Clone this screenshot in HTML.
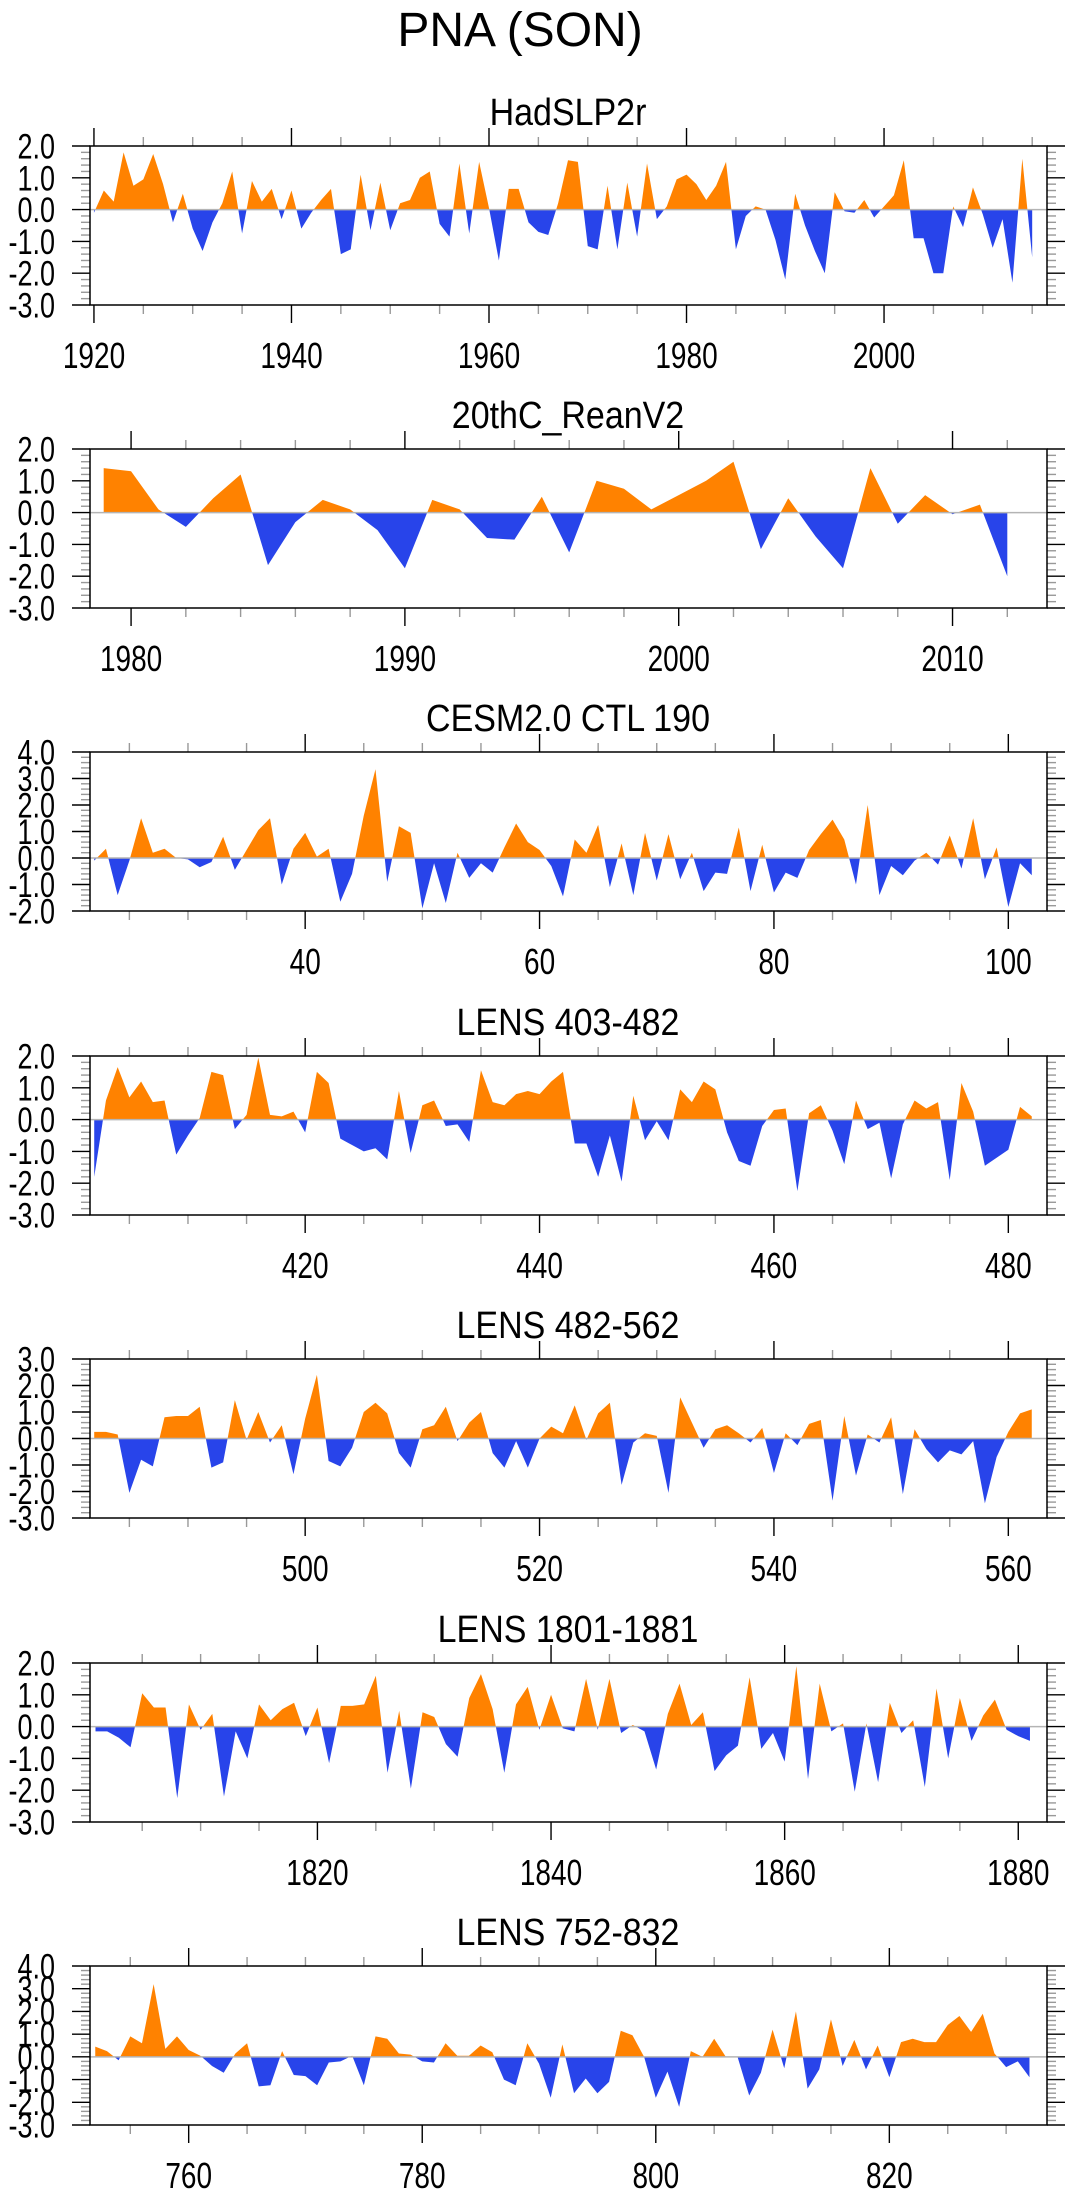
<!DOCTYPE html>
<html><head><meta charset="utf-8"><title>PNA (SON)</title>
<style>
html,body{margin:0;padding:0;background:#fff;}
svg{display:block;font-family:"Liberation Sans",Arial,sans-serif;}
</style></head>
<body>
<svg id="chart" width="1075" height="2191" viewBox="0 0 1075 2191" xmlns="http://www.w3.org/2000/svg">
<text x="520" y="46" font-size="48" text-anchor="middle" fill="#000">PNA (SON)</text>
</svg>
<script>
// ---- Panel data ----
const hadStart = 1920;
const hadValues = [-0.1,0.6,0.25,1.8,0.75,0.95,1.75,0.8,-0.4,0.5,
-0.6,-1.3,-0.4,0.2,1.2,-0.75,0.9,0.25,0.65,-0.3,
0.6,-0.6,-0.1,0.3,0.65,-1.4,-1.25,1.1,-0.65,0.85,
-0.65,0.2,0.3,1.0,1.2,-0.45,-0.85,1.45,-0.75,1.5,
0.05,-1.6,0.65,0.65,-0.4,-0.7,-0.8,0.2,1.55,1.5,
-1.15,-1.25,0.75,-1.25,0.85,-0.85,1.45,-0.3,0.1,0.95,
1.1,0.8,0.3,0.75,1.5,-1.25,-0.2,0.1,0.0,-0.95,
-2.2,0.5,-0.5,-1.3,-2.0,0.55,-0.05,-0.1,0.3,-0.25,
0.1,0.45,1.55,-0.9,-0.9,-2.0,-2.0,0.1,-0.55,0.7,
-0.15,-1.2,-0.3,-2.3,1.6,-1.5];
const hadTicks = [1920,1940,1960,1980,2000];

const reanStart = 1979;
const reanValues = [1.4,1.3,0.1,-0.45,0.45,1.2,-1.65,-0.3,0.4,0.1,
-0.55,-1.75,0.4,0.1,-0.8,-0.85,0.5,-1.25,1.0,0.75,
0.1,0.55,1.0,1.6,-1.15,0.45,-0.75,-1.75,1.4,-0.35,
0.55,-0.05,0.25,-2.0];
const reanTicks = [1980,1990,2000,2010];

const ctlStart = 22;
const ctlValues = [-0.1,0.35,-1.4,-0.1,1.5,0.2,0.35,0.0,-0.05,-0.35,
-0.15,0.8,-0.45,0.3,1.05,1.5,-1.0,0.35,0.95,0.05,
0.35,-1.65,-0.6,1.6,3.35,-0.9,1.2,0.95,-1.9,-0.2,
-1.7,0.2,-0.75,-0.2,-0.55,0.4,1.3,0.6,0.3,-0.3,
-1.45,0.7,0.2,1.25,-1.1,0.55,-1.4,0.95,-0.85,0.9,
-0.8,0.2,-1.25,-0.55,-0.6,1.15,-1.25,0.5,-1.3,-0.55,
-0.75,0.3,0.9,1.45,0.7,-1.0,2.0,-1.4,-0.3,-0.65,
-0.1,0.2,-0.25,0.85,-0.4,1.5,-0.8,0.4,-1.85,-0.2,-0.65];
const ctlTicks = [40,60,80,100];

const lensAStart = 402;
const lensAValues = [-1.8,0.6,1.65,0.7,1.2,0.55,0.6,-1.1,-0.5,0.05,
1.5,1.4,-0.3,0.15,1.95,0.15,0.1,0.25,-0.4,1.5,
1.15,-0.6,-0.8,-1.0,-0.9,-1.25,0.9,-1.05,0.45,0.6,
-0.2,-0.15,-0.7,1.55,0.55,0.45,0.8,0.9,0.8,1.2,
1.5,-0.75,-0.75,-1.8,-0.5,-1.95,0.75,-0.65,-0.05,-0.65,
0.95,0.55,1.2,0.95,-0.4,-1.3,-1.45,-0.2,0.3,0.35,
-2.25,0.2,0.45,-0.35,-1.4,0.6,-0.3,-0.1,-1.85,-0.15,
0.6,0.35,0.55,-1.9,1.15,0.25,-1.45,-1.2,-0.95,0.4,0.1];
const lensATicks = [420,440,460,480];

const lensBStart = 482;
const lensBValues = [0.25,0.25,0.15,-2.05,-0.8,-1.05,0.8,0.85,0.85,1.2,
-1.1,-0.9,1.45,-0.05,1.0,-0.15,0.5,-1.35,0.75,2.4,
-0.85,-1.05,-0.35,1.0,1.35,0.95,-0.55,-1.1,0.35,0.5,
1.2,-0.1,0.6,1.0,-0.55,-1.1,-0.1,-1.1,0.0,0.45,
0.2,1.25,-0.05,0.95,1.35,-1.75,-0.15,0.2,0.1,-2.05,
1.55,0.6,-0.35,0.35,0.5,0.2,-0.15,0.4,-1.3,0.2,
-0.25,0.55,0.7,-2.35,0.85,-1.4,0.15,-0.15,0.8,-2.1,
0.35,-0.4,-0.9,-0.45,-0.6,-0.1,-2.45,-0.7,0.25,0.95,1.1];
const lensBTicks = [500,520,540,560];

const lensCStart = 1801;
const lensCValues = [-0.15,-0.15,-0.35,-0.65,1.05,0.6,0.6,-2.25,0.7,-0.1,
0.4,-2.2,-0.15,-1.0,0.7,0.2,0.55,0.75,-0.3,0.6,
-1.15,0.65,0.65,0.7,1.6,-1.45,0.5,-1.95,0.45,0.3,
-0.55,-0.95,0.9,1.65,0.55,-1.45,0.7,1.25,-0.1,1.0,
-0.05,-0.15,1.5,-0.1,1.5,-0.2,0.05,-0.15,-1.35,0.4,
1.35,0.05,0.45,-1.4,-0.9,-0.6,1.55,-0.7,-0.2,-1.1,
1.9,-1.65,1.35,-0.15,0.1,-2.05,0.1,-1.75,0.75,-0.2,
0.2,-1.9,1.2,-1.0,0.9,-0.45,0.35,0.85,-0.1,-0.3,-0.45];
const lensCTicks = [1820,1840,1860,1880];

const lensDStart = 752;
const lensDValues = [0.45,0.25,-0.15,0.9,0.6,3.2,0.35,0.9,0.3,0.05,
-0.4,-0.7,0.15,0.6,-1.3,-1.25,0.25,-0.8,-0.85,-1.25,
-0.25,-0.2,0.05,-1.25,0.9,0.8,0.15,0.1,-0.2,-0.25,
0.6,0.05,0.05,0.5,0.2,-1.0,-1.25,0.6,-0.3,-1.8,
0.55,-1.6,-0.95,-1.6,-1.1,1.15,0.95,0.0,-1.8,-0.65,
-2.2,0.25,0.0,0.8,0.0,0.0,-1.7,-0.7,1.2,-0.5,
2.0,-1.4,-0.55,1.65,-0.4,0.75,-0.55,0.5,-0.9,0.65,
0.8,0.65,0.65,1.4,1.8,1.1,1.9,0.15,-0.45,-0.2,-0.9];
const lensDTicks = [760,780,800,820];

const panelTitles = ["HadSLP2r","20thC_ReanV2","CESM2.0 CTL 190","LENS 403-482","LENS 482-562","LENS 1801-1881","LENS 752-832"];

// ---- Layout ----
const NS = "http://www.w3.org/2000/svg";
const svg = document.getElementById('chart');
const L = 90, R = 1047, H = 159;
const tops = [146,449,752,1056,1359,1663,1966];
const panels = [
  {start:hadStart, vals:hadValues, ticks:hadTicks, xmin:1919.6, xmax:2016.5, ymin:-3, ymax:2, minor:5},
  {start:reanStart, vals:reanValues, ticks:reanTicks, xmin:1978.5, xmax:2013.45, ymin:-3, ymax:2, minor:2},
  {start:ctlStart, vals:ctlValues, ticks:ctlTicks, xmin:21.64, xmax:103.3, ymin:-2, ymax:4, minor:5},
  {start:lensAStart, vals:lensAValues, ticks:lensATicks, xmin:401.64, xmax:483.3, ymin:-3, ymax:2, minor:5},
  {start:lensBStart, vals:lensBValues, ticks:lensBTicks, xmin:481.64, xmax:563.3, ymin:-3, ymax:3, minor:5},
  {start:lensCStart, vals:lensCValues, ticks:lensCTicks, xmin:1800.53, xmax:1882.46, ymin:-3, ymax:2, minor:5},
  {start:lensDStart, vals:lensDValues, ticks:lensDTicks, xmin:751.55, xmax:833.5, ymin:-3, ymax:4, minor:5}
];

function mk(tag, attrs, parent){
  const e = document.createElementNS(NS, tag);
  for (const k in attrs) e.setAttribute(k, attrs[k]);
  (parent||svg).appendChild(e);
  return e;
}

panels.forEach((p, i) => {
  const top = tops[i], bot = top + H;
  const xs = v => L + (v - p.xmin) / (p.xmax - p.xmin) * (R - L);
  const ys = v => bot - (v - p.ymin) / (p.ymax - p.ymin) * H;
  const g = mk('g', {});
  
  

  const title = mk('text', {x:0, y:0, 'font-size':34, 'text-anchor':'middle', fill:'#000', transform:'translate(568,' + (top-21) + ') scale(1,1.12)'}, g);
  
  
  title.textContent = panelTitles[i];

  const y0 = ys(0);
  const defs = mk('defs', {}, g);
  const cpA = mk('clipPath', {id:'above'+i}, defs);
  mk('rect', {x:L, y:top, width:R-L, height:y0-top}, cpA);
  const cpB = mk('clipPath', {id:'below'+i}, defs);
  mk('rect', {x:L, y:y0, width:R-L, height:bot-y0}, cpB);

  let pts = [];
  p.vals.forEach((v, k) => { pts.push(xs(p.start + k).toFixed(2) + ',' + ys(v).toFixed(2)); });
  const xFirst = xs(p.start).toFixed(2), xLast = xs(p.start + p.vals.length - 1).toFixed(2);
  const poly = xFirst + ',' + y0.toFixed(2) + ' ' + pts.join(' ') + ' ' + xLast + ',' + y0.toFixed(2);
  const pos = mk('polygon', {points:poly, fill:'#ff8200', 'clip-path':'url(#above'+i+')'}, g);
  
  
  const neg = mk('polygon', {points:poly, fill:'#2844ea', 'clip-path':'url(#below'+i+')'}, g);
  
  

  const zl = mk('line', {x1:L, x2:R, y1:y0, y2:y0, stroke:'#b4b4b4', 'stroke-width':1.5}, g);
  
  

  const yStep = 0.2;
  for (let v = p.ymin; v <= p.ymax + 1e-6; v += yStep) {
    const vv = Math.round(v*10)/10;
    const y = ys(vv);
    const major = Math.abs(vv - Math.round(vv)) < 1e-6;
    const len = major ? 18 : 9;
    const col = major ? '#000' : '#999';
    mk('line', {x1:L-len, x2:L, y1:y, y2:y, stroke:col, 'stroke-width':1.4}, g);
    mk('line', {x1:R, x2:R+len, y1:y, y2:y, stroke:col, 'stroke-width':1.4}, g);
    if (major) {
      const t = mk('text', {x:0, y:0, 'font-size':27, 'text-anchor':'end', fill:'#000', transform:'translate(55,' + (y+12.5).toFixed(1) + ') scale(1,1.3)'}, g);
      
      
      t.textContent = vv.toFixed(1);
    }
  }
  const first = Math.ceil(p.xmin / p.minor) * p.minor;
  for (let v = first; v <= p.xmax; v += p.minor) {
    const x = xs(v);
    const major = p.ticks.includes(v) || (v % (p.minor===2?10:20) === 0);
    const len = major ? 18 : 9;
    const col = major ? '#000' : '#999';
    mk('line', {x1:x, x2:x, y1:bot, y2:bot+len, stroke:col, 'stroke-width':1.4}, g);
    mk('line', {x1:x, x2:x, y1:top-len, y2:top, stroke:col, 'stroke-width':1.4}, g);
  }
  p.ticks.forEach(v => {
    const t = mk('text', {x:0, y:0, 'font-size':28, 'text-anchor':'middle', fill:'#000', transform:'translate(' + xs(v).toFixed(1) + ',' + (bot+63) + ') scale(1,1.3)'}, g);
    
    
    t.textContent = String(v);
  });

  const frame = mk('rect', {x:L, y:top, width:R-L, height:H, fill:'none', stroke:'#000', 'stroke-width':1.5}, g);
  
  
});
</script>
</body></html>
